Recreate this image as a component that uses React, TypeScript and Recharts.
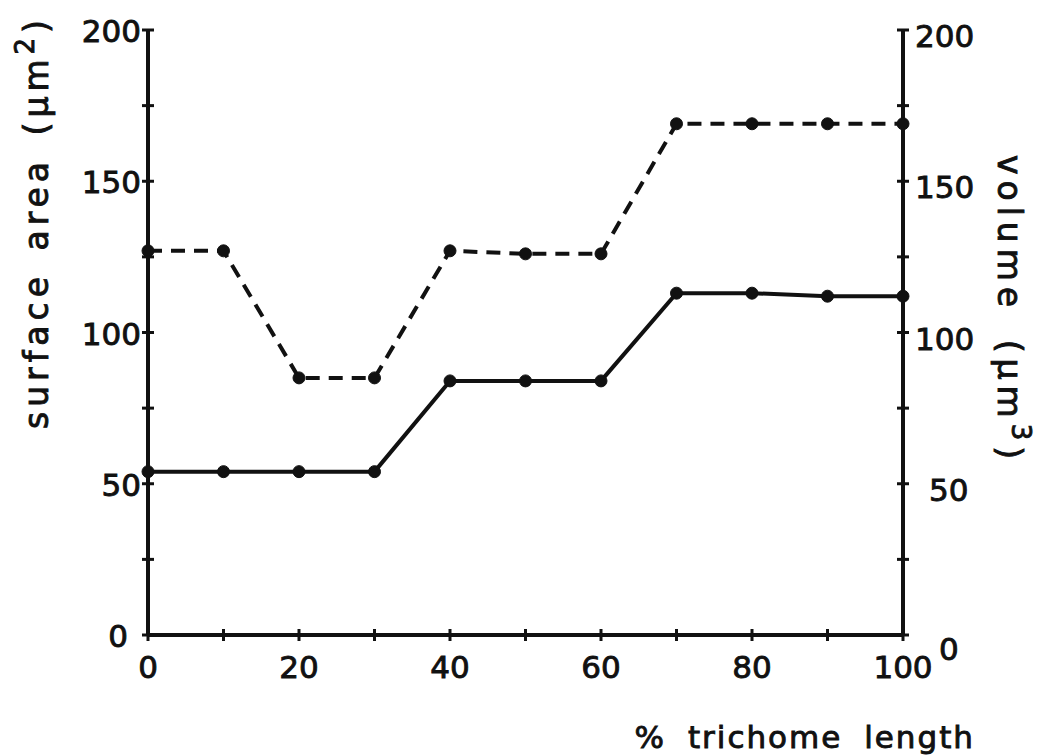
import { LineChart, Line, XAxis, YAxis } from 'recharts';

const trichomeLength = [0, 10, 20, 30, 40, 50, 60, 70, 80, 90, 100];
const surfaceArea = [54, 54, 54, 54, 84, 84, 84, 113, 113, 112, 112];
const volume = [127, 127, 85, 85, 127, 126, 126, 169, 169, 169, 169];

const xTicks = [0, 10, 20, 30, 40, 50, 60, 70, 80, 90, 100];
const yTicks = [0, 25, 50, 75, 100, 125, 150, 175, 200];

const data = trichomeLength.map((x, i) => ({
  x,
  area: surfaceArea[i],
  vol: volume[i],
}));

const FONT = '"DejaVu Sans", sans-serif';
const INK = '#111';
// scanned print looks heavier than DejaVu regular
const textInk = { fill: INK, stroke: INK, strokeWidth: 0.9 };

const LeftTick = ({ x, y, payload }: any) => (
  <g>
    <line x1={x - 6} x2={x + 6} y1={y} y2={y} stroke={INK} strokeWidth={3} />
    {payload.value % 50 === 0 && (
      <text
        x={x - (payload.value === 0 ? 20 : 7)}
        y={y + 1}
        textAnchor="end"
        dominantBaseline="central"
        fontFamily={FONT}
        fontSize={31}
        {...textInk}
      >
        {payload.value}
      </text>
    )}
  </g>
);

const RightTick = ({ x, y, payload }: any) => (
  <g>
    <line x1={x - 6} x2={x + 6} y1={y} y2={y} stroke={INK} strokeWidth={3} />
    {payload.value % 50 === 0 && (
      <text
        x={x + (payload.value === 0 ? 36 : payload.value === 50 ? 26 : 12)}
        y={y + (payload.value === 0 ? 14 : 6)}
        textAnchor="start"
        dominantBaseline="central"
        fontFamily={FONT}
        fontSize={31}
        {...textInk}
      >
        {payload.value}
      </text>
    )}
  </g>
);

const BottomTick = ({ x, y, payload }: any) => (
  <g>
    <line x1={x} x2={x} y1={y - 6} y2={y + 6} stroke={INK} strokeWidth={3} />
    {payload.value % 20 === 0 && (
      <text
        x={x}
        y={y + 32}
        textAnchor="middle"
        dominantBaseline="central"
        fontFamily={FONT}
        fontSize={31}
        {...textInk}
      >
        {payload.value}
      </text>
    )}
  </g>
);

const LeftTitle = () => (
  <text
    transform="translate(48, 222) rotate(-90)"
    textAnchor="middle"
    fontFamily={FONT}
    fontSize={33}
    letterSpacing={5}
    wordSpacing={6}
    {...textInk}
  >
    surface area (μm<tspan dy={-14} fontSize={26}>2</tspan>
    <tspan dy={14}>)</tspan>
  </text>
);

const RightTitle = () => (
  <text
    transform="translate(998, 310) rotate(90)"
    textAnchor="middle"
    fontFamily={FONT}
    fontSize={33}
    letterSpacing={6}
    wordSpacing={10}
    {...textInk}
  >
    volume (μm<tspan dy={-14} fontSize={26}>3</tspan>
    <tspan dy={14}>)</tspan>
  </text>
);

const XTitle = () => (
  <text
    x={975}
    y={748}
    textAnchor="end"
    fontFamily={FONT}
    fontSize={31}
    letterSpacing={2}
    wordSpacing={10}
    {...textInk}
  >
    % trichome length
  </text>
);

export default function App() {
  return (
    <div style={{ width: 1037, height: 755, background: '#fff' }}>
      <style>{'body{margin:0}'}</style>
      <LineChart
        width={1037}
        height={755}
        data={data}
        margin={{ top: 30, right: 0, bottom: 0, left: 0 }}
      >
        <XAxis
          dataKey="x"
          type="number"
          domain={[0, 100]}
          ticks={xTicks}
          height={120}
          tickSize={0}
          tickMargin={0}
          axisLine={{ stroke: INK, strokeWidth: 4 }}
          tick={<BottomTick />}
          label={<XTitle />}
          interval={0}
        />
        <YAxis
          yAxisId="left"
          domain={[0, 200]}
          ticks={yTicks}
          width={148}
          tickSize={0}
          tickMargin={0}
          axisLine={{ stroke: INK, strokeWidth: 4 }}
          tick={<LeftTick />}
          label={<LeftTitle />}
          interval={0}
        />
        <YAxis
          yAxisId="right"
          orientation="right"
          domain={[0, 200]}
          ticks={yTicks}
          width={134}
          tickSize={0}
          tickMargin={0}
          axisLine={{ stroke: INK, strokeWidth: 4 }}
          tick={<RightTick />}
          label={<RightTitle />}
          interval={0}
        />
        <Line
          yAxisId="left"
          dataKey="area"
          type="linear"
          stroke={INK}
          strokeWidth={4}
          dot={{ r: 6, fill: INK, stroke: INK, strokeWidth: 1 }}
          activeDot={false}
          isAnimationActive={false}
        />
        <Line
          yAxisId="right"
          dataKey="vol"
          type="linear"
          stroke={INK}
          strokeWidth={4}
          strokeDasharray="14 9"
          dot={{ r: 6, fill: INK, stroke: INK, strokeWidth: 1, strokeDasharray: '' }}
          activeDot={false}
          isAnimationActive={false}
        />
      </LineChart>
    </div>
  );
}
